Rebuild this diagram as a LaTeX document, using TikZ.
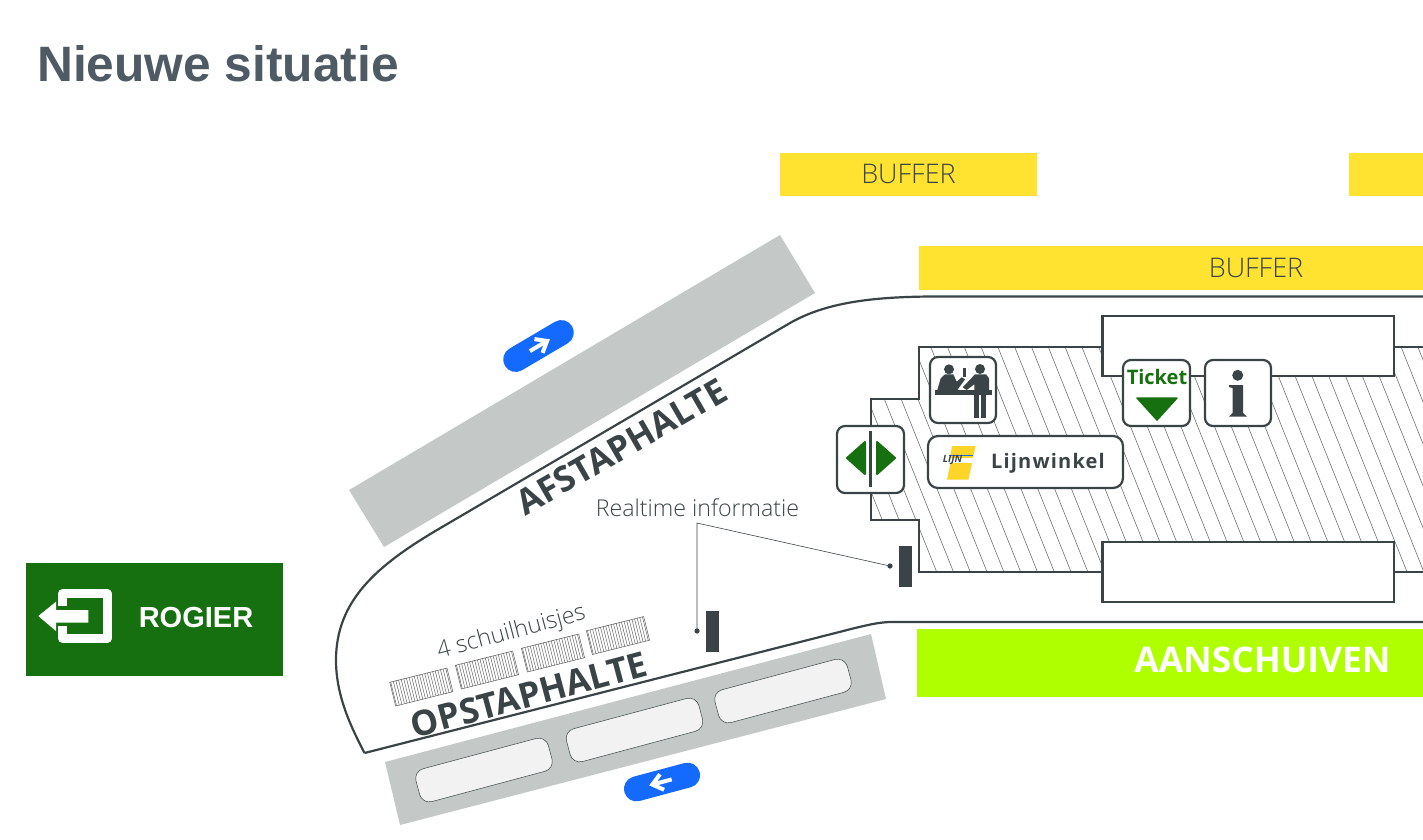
\documentclass[tikz,border=0pt]{standalone}
\usepackage{fontspec}
\setmainfont{Open Sans}
\newfontfamily\lichtfont{Open Sans Light}
\newfontfamily\arialfont{Liberation Sans}
\newfontfamily\spacedfont[LetterSpace=6]{Open Sans}
\usetikzlibrary{calc}
\definecolor{donker}{HTML}{3A4447}
\definecolor{titelgrijs}{HTML}{4E5B65}
\definecolor{bandgrijs}{HTML}{C4C8C7}
\definecolor{geel}{HTML}{FFE330}
\definecolor{limoen}{HTML}{B0FF00}
\definecolor{groen}{HTML}{17700F}
\definecolor{blauw}{HTML}{1469FF}
\tikzset{
	muur/.style={draw=donker, line width=2.2},
	bord/.style={draw=donker, line width=2.2, fill=white, rounded corners=8},
	arcering/.style={draw=black!50, line width=0.7},
	leider/.style={draw=donker, line width=0.6},
	perron/.style={draw=donker, line width=0.5, fill=black!5, rounded corners=10, minimum width=137, minimum height=34, rotate=15},
	pijlwit/.style={draw=white, line width=4},
	tekst/.style={text=donker, inner sep=0},
}
\def\fs#1{\fontsize{#1}{#1}\selectfont}
\def\schuilhuisje(#1){
	\begin{scope}[shift={(#1)}, rotate=14]
		\begin{scope}
			\clip (-29.5,-12.2) rectangle (29.5,12.2);
			\foreach \x in {-28.5,-25.8,...,29.5}
				\draw[black!60, line width=0.5] (\x,-13) -- (\x,13);
		\end{scope}
		\draw[black!65, line width=0.5] (-29.5,-12.2) rectangle (29.5,12.2);
	\end{scope}
}
\def\blauwpijl(#1)(#2)(#3){
	\begin{scope}[shift={(#1)}, rotate=#2]
		\fill[blauw, rounded corners=12.5] (-39,-12.5) rectangle (39,12.5);
		\draw[pijlwit] (-10*#3,0) -- (8*#3,0);
		\draw[pijlwit] (0*#3,-8) -- (10*#3,0) -- (0*#3,8);
	\end{scope}
}
\begin{document}
\begin{tikzpicture}[x=1pt, y=-1pt]
	\useasboundingbox (0,0) rectangle (1423,839);
	%%%%% TITEL %%%%%
	\node[anchor=west, text=titelgrijs, inner sep=0] (titel) at (37,64) {\arialfont\bfseries\fs{49.7}Nieuwe situatie};

	%%%%% BANDEN %%%%%
	\fill[bandgrijs] (780,235) -- (815,293) -- (384,547) -- (349,490) -- cycle;
	\fill[bandgrijs] (385,762) -- (871,634) -- (886,699) -- (400,825) -- cycle;
	\node[perron] (perron1) at (484,770) {};
	\node[perron] (perron2) at (634.5,730) {};
	\node[perron] (perron3) at (783,691) {};

	%%%%% GEBOUW %%%%%
	\draw[muur] (364.5,753) -- (855,628) .. controls (870,624.5) and (880,622) .. (892,622) -- (1423,622);
	\draw[muur] (364.5,753) .. controls (350,725) and (336,695) .. (336,660) .. controls (336,600) and (378,565) .. (437,530) -- (790,323) .. controls (825,303) and (870,297) .. (930,296.5) -- (1423,296.5);

	\begin{scope}
		\clip (919,347) -- (1423,347) -- (1423,572) -- (919,572) -- (919,520) -- (871,520) -- (871,399) -- (919,399) -- cycle;
		\foreach \x in {813.1,829.9,...,1430}
			\draw[arcering] (\x,347) -- ({\x+90},572);
	\end{scope}
	\draw[muur] (1423,347) -- (919,347) -- (919,399) -- (871,399) -- (871,520) -- (919,520) -- (919,572) -- (1423,572);
	\draw[muur, fill=white] (1102.5,316) rectangle (1394,376);
	\draw[muur, fill=white] (1102.5,542) rectangle (1394,602);

	%%%%% VLAKKEN %%%%%
	\fill[geel] (780,153) rectangle (1037,196);
	\fill[geel] (1349,153) rectangle (1423,196);
	\fill[geel] (919,246) rectangle (1423,290);
	\fill[limoen] (917,629) rectangle (1423,697);
	\fill[groen] (26,563) rectangle (283,676);
	\node[tekst] (buffer1) at (908.5,174) {\lichtfont\fs{27}BUFFER};
	\node[tekst] (buffer2) at (1256,268) {\lichtfont\fs{27}BUFFER};
	\node[text=white, inner sep=0] (aanschuiven) at (1262.5,660) {\bfseries\fs{35.3}AANSCHUIVEN};
	\node[text=white, inner sep=0] (rogier) at (196,618) {\arialfont\bfseries\fs{29}ROGIER};

	% uitgang
	\draw[white, line width=8.2, line join=round] (62.5,606) -- (62.5,593.5) -- (107.5,593.5) -- (107.5,638.5) -- (62.5,638.5) -- (62.5,626);
	\fill[white] (38.3,616) -- (56,601.7) -- (56,610) -- (88.3,610) -- (88.3,622.7) -- (56,622.7) -- (56,631) -- cycle;

	%%%%% HALTES %%%%%
	\node[tekst, rotate=30] (afstap) at (621.5,446.5) {\bfseries\fs{35}AFSTAPHALTE};
	\node[tekst, rotate=15] (opstap) at (529,694.5) {\bfseries\fs{35}OPSTAPHALTE};
	\node[tekst, rotate=15] (schuil) at (511.5,633) {\lichtfont\fs{23.4}4 schuilhuisjes};
	\schuilhuisje(421.3,687)
	\schuilhuisje(487,670)
	\schuilhuisje(553,653)
	\schuilhuisje(618,635.5)
	\blauwpijl(538.5,346)(30.5)(1)
	\blauwpijl(662,782)(15)(-1)

	%%%%% REALTIME %%%%%
	\fill[donker] (899,546) rectangle (912,587);
	\fill[donker] (706,611) rectangle (719,652);
	\node[tekst] (realtime) at (697.5,508) {\lichtfont\fs{23.2}Realtime informatie};
	\coordinate (splits) at (697,523);
	\coordinate (paal1) at (697,631);
	\coordinate (paal2) at (890,566);
	\draw[leider] (paal1) -- (splits) -- (paal2);
	\fill[donker] (paal1) circle (2.6);
	\fill[donker] (paal2) circle (2.6);

	%%%%% BORDEN %%%%%
	% deur
	\draw[bord] (837,426) rectangle (904,493);
	\draw[donker, line width=2.4] (870.5,431) -- (870.5,487);
	\draw[groen, fill=groen, line width=2, line join=round] (847,458) -- (865,442) -- (865,474) -- cycle;
	\draw[groen, fill=groen, line width=2, line join=round] (895,458) -- (877,442) -- (877,474) -- cycle;

	% balie
	\draw[bord] (930,357) rectangle (996,423);
	\fill[donker] (949,369.3) circle (5);
	\fill[donker] (980,369) circle (5);
	\fill[donker] (937.3,390) -- (940.7,378.3) -- (945,374.3) -- (953.3,374.3) -- (956.7,381.7) -- (961.7,377.3) -- (965,379.3) -- (957.3,390) -- cycle;
	\fill[donker] (962.7,368.3) rectangle (966,377);
	\fill[donker] (975,374.3) -- (986,374.3) -- (989,378.3) -- (989,390) -- (974.3,390) -- (974.3,384.3) -- (966.7,390) -- (962.7,387.3) -- cycle;
	\fill[donker] (935,390) rectangle (991.7,395);
	\fill[donker] (974.3,395) rectangle (979.3,418.3);
	\fill[donker] (981,395) rectangle (985.7,418.3);

	% lijnwinkel
	\draw[bord, rounded corners=10] (928,436) rectangle (1123,488);
	\fill[geel!85!orange] (952,446) -- (975.5,446) -- (973,458) -- (950,458) -- cycle;
	\fill[geel!85!orange] (950.5,463) -- (972,463) -- (968.5,479.5) -- (947,479.5) -- cycle;
	\draw[blauw, line width=1] (949,455.5) -- (973,455.5);
	\node[tekst] (lijn) at (952.5,459.5) {\bfseries\itshape\fs{10}LIJN};
	\node[tekst] (lijnwinkel) at (1048,463) {\spacedfont\bfseries\fs{20}Lijnwinkel};

	% ticket
	\draw[bord] (1123,360) rectangle (1190,426);
	\node[text=groen, inner sep=0] (ticket) at (1157,377) {\bfseries\fs{20}Ticket};
	\draw[groen, fill=groen, line width=1.5, line join=round] (1137,398) -- (1177,398) -- (1157,420) -- cycle;

	% info
	\draw[bord] (1205,360) rectangle (1271,426);
	\fill[donker] (1237.7,375.3) circle (5.5);
	\fill[donker] (1229,385) -- (1243,385) -- (1243,413) -- (1247,416.5) -- (1229,416.5) -- (1232.5,413) -- (1232.5,388) -- (1229,387) -- cycle;
\end{tikzpicture}
\end{document}
